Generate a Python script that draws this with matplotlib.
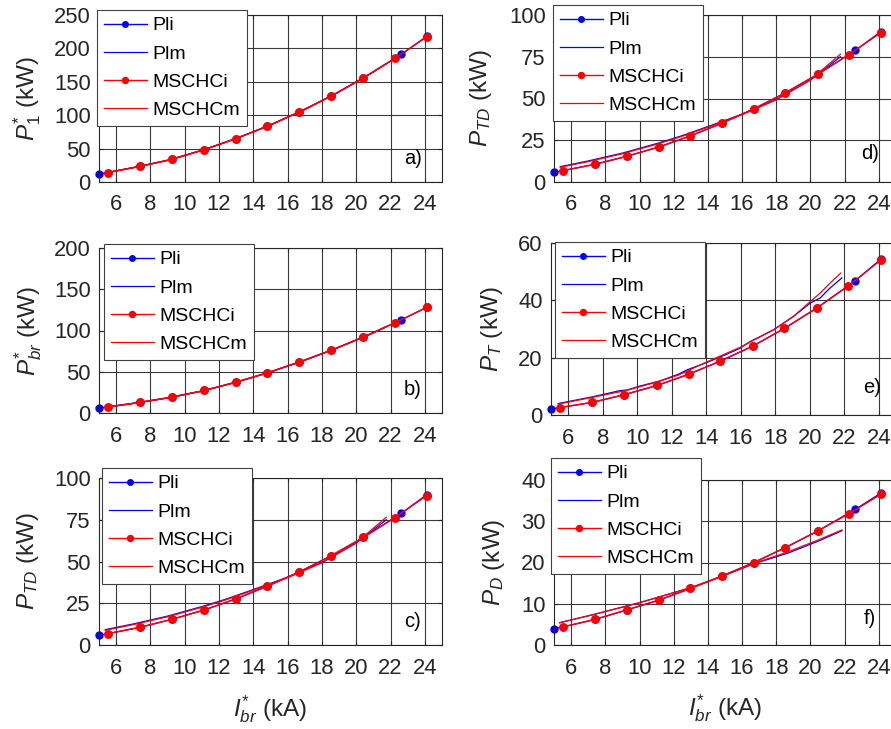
import matplotlib
matplotlib.use("Agg")
import matplotlib.pyplot as plt

plt.rcParams["font.family"] = ["Liberation Sans", "DejaVu Sans"]
plt.rcParams["mathtext.fontset"] = "custom"
plt.rcParams["mathtext.rm"] = "Liberation Sans"
plt.rcParams["mathtext.it"] = "Liberation Sans:italic"
plt.rcParams["mathtext.bf"] = "Liberation Sans:bold"

# Branch current (kA) at the computed points
x_pli = [5.00, 7.40, 9.26, 11.15, 12.98, 14.82, 16.69, 18.53, 20.41, 22.63, 24.11]
x_msi = [5.54, 7.40, 9.26, 11.15, 12.98, 14.82, 16.69, 18.53, 20.41, 22.24, 24.11]

# a) P1*
p1_pli = [12.0, 23.5, 34.0, 48.5, 65.0, 83.5, 105.0, 128.5, 155.5, 191.0, 218.0]
p1_msi = [14.0, 23.5, 34.0, 48.5, 65.0, 83.5, 105.0, 128.5, 155.5, 185.0, 217.0]
xm_p1 = [5.35, 7.0, 9.0, 11.0, 13.0, 15.0, 17.0, 19.0, 21.0, 21.75]
p1_plm = [13.5, 21.5, 32.5, 47.5, 65.0, 85.5, 108.5, 135.0, 165.0, 177.0]
p1_msm = [13.3, 21.3, 32.3, 47.3, 65.0, 85.3, 108.5, 135.0, 165.0, 177.0]

# b) Pbr*
pbr_pli = [6.0, 12.9, 19.3, 27.3, 37.3, 48.6, 61.8, 75.9, 92.0, 112.9, 128.0]
pbr_msi = [7.2, 12.9, 19.3, 27.3, 37.3, 48.6, 61.8, 75.9, 92.0, 109.2, 128.0]
xm_pbr = [5.35, 7.0, 9.0, 11.0, 13.0, 15.0, 17.0, 19.0, 21.0, 21.75]
pbr_plm = [6.9, 11.6, 18.3, 26.6, 37.4, 49.8, 64.0, 79.7, 97.0, 104.5]
pbr_msm = [6.8, 11.5, 18.2, 26.5, 37.3, 49.8, 64.1, 79.9, 97.2, 104.8]

# c), d) PTD
ptd_pli = [5.8, 10.6, 15.4, 21.0, 27.6, 35.2, 43.8, 53.4, 64.4, 78.8, 90.0]
ptd_msi = [6.8, 10.6, 15.4, 21.0, 27.6, 35.2, 43.8, 53.4, 64.4, 76.2, 89.4]
xm_ptd = [5.37, 7.0, 9.0, 11.0, 12.39, 14.0, 16.0, 18.0, 20.0, 21.75]
ptd_plm = [9.2, 12.6, 17.3, 23.0, 27.4, 33.2, 40.6, 49.4, 61.0, 75.0]
ptd_msm = [8.8, 12.2, 16.9, 22.6, 27.0, 32.8, 40.3, 49.2, 61.2, 76.5]

# e) PT
pt_pli = [2.1, 4.4, 7.1, 10.3, 14.2, 18.8, 24.0, 30.2, 37.3, 46.8, 54.3]
pt_msi = [2.6, 4.4, 7.1, 10.3, 14.2, 18.8, 24.0, 30.2, 37.3, 45.0, 54.0]
xm_pt_pl = [5.42, 7.45, 9.0, 9.4, 10.16, 11.32, 12.38, 12.87, 14.03, 15.19,
            15.96, 16.54, 17.9, 19.06, 20.02, 20.6, 21.18, 21.86]
pt_plm = [4.0, 6.4, 8.5, 8.7, 10.1, 11.9, 14.2, 15.7, 18.3, 21.2,
          23.3, 25.6, 29.7, 34.4, 39.0, 40.8, 44.3, 47.8]
xm_pt_ms = [5.42, 7.45, 9.4, 11.32, 12.38, 14.03, 15.96, 17.9, 19.06, 20.02,
            20.6, 21.18, 21.8]
pt_msm = [3.8, 6.2, 8.6, 11.8, 13.9, 18.5, 23.6, 29.7, 34.4, 39.5, 42.5, 46.0, 49.5]

# f) PD
pd_pli = [3.9, 6.2, 8.5, 10.9, 13.7, 16.7, 20.0, 23.6, 27.6, 32.9, 36.8]
pd_msi = [4.36, 6.2, 8.5, 10.9, 13.7, 16.7, 20.0, 23.6, 27.6, 31.8, 36.5]
xm_pd = [5.33, 7.33, 10.04, 13.0, 14.86, 16.7, 18.7, 20.47, 21.84]
pd_plm = [5.4, 7.4, 10.3, 13.9, 16.7, 19.7, 22.3, 25.2, 27.7]
pd_msm = [5.4, 7.4, 10.3, 13.9, 16.7, 19.8, 22.6, 25.5, 27.9]

x_ticks = [6, 8, 10, 12, 14, 16, 18, 20, 22, 24]
series_names = ["Pli", "Plm", "MSCHCi", "MSCHCm"]

W, H = 891, 729
fig = plt.figure(figsize=(W / 100, H / 100), dpi=100)

dark = "#262626"

panels = [
    dict(rect=(99, 15, 442, 182), ylim=(0, 250), yticks=[0, 50, 100, 150, 200, 250],
         ylabel=r"$P_{1}^{*}$ (kW)", tag="a)", tagpos=(0.915, 0.14), ylx=-0.21,
         leg=(97, 10), xlabel=False,
         data=(x_pli, p1_pli, xm_p1, p1_plm, x_msi, p1_msi, xm_p1, p1_msm)),
    dict(rect=(99, 248, 442, 413), ylim=(0, 200), yticks=[0, 50, 100, 150, 200],
         ylabel=r"$P_{br}^{*}$ (kW)", tag="b)", tagpos=(0.915, 0.145), ylx=-0.207,
         leg=(104, 244), xlabel=False,
         data=(x_pli, pbr_pli, xm_pbr, pbr_plm, x_msi, pbr_msi, xm_pbr, pbr_msm)),
    dict(rect=(99, 478, 442, 645), ylim=(0, 100), yticks=[0, 25, 50, 75, 100],
         ylabel=r"$P_{TD}$ (kW)", tag="c)", tagpos=(0.915, 0.14), ylx=-0.207,
         leg=(102, 468), xlabel=True,
         data=(x_pli, ptd_pli, xm_ptd, ptd_plm, x_msi, ptd_msi, xm_ptd, ptd_msm)),
    dict(rect=(554, 15, 896, 182), ylim=(0, 100), yticks=[0, 25, 50, 75, 100],
         ylabel=r"$P_{TD}$ (kW)", tag="d)", tagpos=(0.924, 0.17), ylx=-0.213,
         leg=(553, 5), xlabel=False,
         data=(x_pli, ptd_pli, xm_ptd, ptd_plm, x_msi, ptd_msi, xm_ptd, ptd_msm)),
    dict(rect=(551, 243, 896, 415), ylim=(0, 60), yticks=[0, 20, 40, 60],
         ylabel=r"$P_{T}$ (kW)", tag="e)", tagpos=(0.93, 0.157), ylx=-0.171,
         leg=(555, 242), xlabel=False,
         data=(x_pli, pt_pli, xm_pt_pl, pt_plm, x_msi, pt_msi, xm_pt_ms, pt_msm)),
    dict(rect=(554, 480, 896, 645), ylim=(0, 40), yticks=[0, 10, 20, 30, 40],
         ylabel=r"$P_{D}$ (kW)", tag="f)", tagpos=(0.924, 0.16), ylx=-0.175,
         leg=(551, 458), xlabel=True,
         data=(x_pli, pd_pli, xm_pd, pd_plm, x_msi, pd_msi, xm_pd, pd_msm)),
]

for p in panels:
    l, t, r, b = p["rect"]
    ax = fig.add_axes([l / W, 1 - b / H, (r - l) / W, (b - t) / H])
    xa, ya, xb, yb, xc, yc, xd, yd = p["data"]
    ax.plot(xa, ya, color="blue", lw=1.0, marker="o", ms=5, label=series_names[0],
            clip_on=False)
    ax.plot(xb, yb, color="blue", lw=0.9, label=series_names[1])
    ax.plot(xc, yc, color="red", lw=1.0, marker="o", ms=5.4, label=series_names[2],
            clip_on=False)
    ax.plot(xd, yd, color="red", lw=0.9, label=series_names[3])

    ax.set_xlim(5, 25)
    ax.set_ylim(*p["ylim"])
    ax.set_xticks(x_ticks)
    ax.set_yticks(p["yticks"])
    ax.grid(True, color=dark, lw=0.8, alpha=0.9)
    ax.set_axisbelow(True)
    for s in ax.spines.values():
        s.set_color(dark)
        s.set_linewidth(0.8)
    ax.tick_params(direction="in", length=3, width=0.8, colors=dark,
                   labelsize=15.8, top=True, right=True)
    ax.tick_params(axis="x", pad=9)
    ax.tick_params(axis="y", pad=6)

    ax.set_ylabel(p["ylabel"], fontsize=17.5, color=dark, va="center")
    ax.yaxis.set_label_coords(p["ylx"], 0.5)
    if p["xlabel"]:
        ax.set_xlabel(r"$I_{br}^{*}$ (kA)", fontsize=17.5, color=dark, va="center")
        ax.xaxis.set_label_coords(0.5, -0.383)

    ax.text(p["tagpos"][0], p["tagpos"][1], p["tag"], transform=ax.transAxes,
            ha="center", va="center", fontsize=14.5, color="black")

    lx, ly = p["leg"]
    leg = ax.legend(loc="upper left", bbox_to_anchor=(lx / W, 1 - ly / H),
                    bbox_transform=fig.transFigure, borderaxespad=0,
                    fontsize=14, fancybox=False, framealpha=1, edgecolor="#404040",
                    handlelength=2.2, handletextpad=0.3, labelspacing=0.54,
                    borderpad=0.35, markerscale=0.8)
    leg.get_frame().set_linewidth(0.8)
    leg.set_zorder(10)

fig.savefig("out.png", dpi=100)
